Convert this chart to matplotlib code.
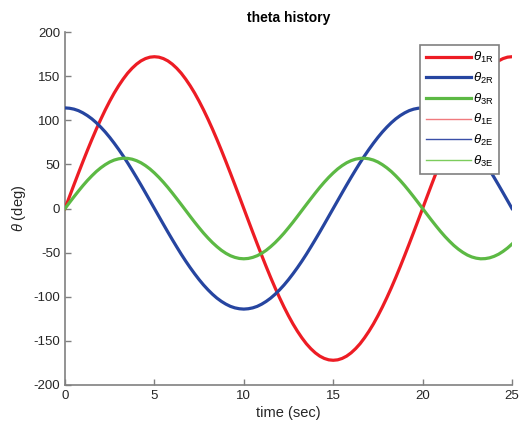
import numpy as np
import matplotlib
matplotlib.use('Agg')
import matplotlib.pyplot as plt

plt.rcParams['font.family'] = ['Liberation Sans', 'DejaVu Sans']
plt.rcParams['mathtext.fontset'] = 'custom'
plt.rcParams['mathtext.rm'] = 'Liberation Sans'
plt.rcParams['mathtext.it'] = 'Liberation Sans:italic'
plt.rcParams['axes.unicode_minus'] = False

# time samples (sec)
t = np.arange(0, 25.001, 0.25)

# joint angles (deg), every 0.25 s
theta1 = [0, 13.5, 26.9, 40.1, 53.1, 65.8, 78.1, 89.9, 101.1, 111.7, 121.6,
          130.8, 139.1, 146.6, 153.3, 158.9, 163.6, 167.3, 169.9, 171.5, 172,
          171.5, 169.9, 167.3, 163.6, 158.9, 153.3, 146.6, 139.1, 130.8, 121.6,
          111.7, 101.1, 89.9, 78.1, 65.8, 53.1, 40.1, 26.9, 13.5, 0,
          -13.5, -26.9, -40.1, -53.1, -65.8, -78.1, -89.9, -101.1, -111.7, -121.6,
          -130.8, -139.1, -146.6, -153.3, -158.9, -163.6, -167.3, -169.9, -171.5, -172,
          -171.5, -169.9, -167.3, -163.6, -158.9, -153.3, -146.6, -139.1, -130.8, -121.6,
          -111.7, -101.1, -89.9, -78.1, -65.8, -53.1, -40.1, -26.9, -13.5, 0,
          13.5, 26.9, 40.1, 53.1, 65.8, 78.1, 89.9, 101.1, 111.7, 121.6,
          130.8, 139.1, 146.6, 153.3, 158.9, 163.6, 167.3, 169.9, 171.5, 172]
theta2 = [114, 113.6, 112.6, 110.9, 108.4, 105.3, 101.6, 97.2, 92.2, 86.7, 80.6,
          74.0, 67.0, 59.6, 51.8, 43.6, 35.2, 26.6, 17.8, 8.9, 0,
          -8.9, -17.8, -26.6, -35.2, -43.6, -51.8, -59.6, -67.0, -74.0, -80.6,
          -86.7, -92.2, -97.2, -101.6, -105.3, -108.4, -110.9, -112.6, -113.6, -114,
          -113.6, -112.6, -110.9, -108.4, -105.3, -101.6, -97.2, -92.2, -86.7, -80.6,
          -74.0, -67.0, -59.6, -51.8, -43.6, -35.2, -26.6, -17.8, -8.9, 0,
          8.9, 17.8, 26.6, 35.2, 43.6, 51.8, 59.6, 67.0, 74.0, 80.6,
          86.7, 92.2, 97.2, 101.6, 105.3, 108.4, 110.9, 112.6, 113.6, 114,
          113.6, 112.6, 110.9, 108.4, 105.3, 101.6, 97.2, 92.2, 86.7, 80.6,
          74.0, 67.0, 59.6, 51.8, 43.6, 35.2, 26.6, 17.8, 8.9, 0]
theta3 = [0, 6.7, 13.3, 19.7, 25.9, 31.7, 37.0, 41.9, 46.1, 49.7, 52.7,
          54.9, 56.3, 57.0, 56.8, 55.9, 54.2, 51.8, 48.6, 44.8, 40.3,
          35.3, 29.8, 23.9, 17.6, 11.1, 4.5, -2.2, -8.9, -15.5, -21.8,
          -27.9, -33.5, -38.7, -43.3, -47.4, -50.8, -53.5, -55.4, -56.6, -57.0,
          -56.6, -55.4, -53.5, -50.8, -47.4, -43.3, -38.7, -33.5, -27.9, -21.8,
          -15.5, -8.9, -2.2, 4.5, 11.1, 17.6, 23.9, 29.8, 35.3, 40.3,
          44.8, 48.6, 51.8, 54.2, 55.9, 56.8, 57.0, 56.3, 54.9, 52.7,
          49.7, 46.1, 41.9, 37.0, 31.7, 25.9, 19.7, 13.3, 6.7, 0,
          -6.7, -13.3, -19.7, -25.9, -31.7, -37.0, -41.9, -46.1, -49.7, -52.7,
          -54.9, -56.3, -57.0, -56.8, -55.9, -54.2, -51.8, -48.6, -44.8, -40.3]

labels_R = [r'$\theta_{\mathrm{1R}}$', r'$\theta_{\mathrm{2R}}$', r'$\theta_{\mathrm{3R}}$']
labels_E = [r'$\theta_{\mathrm{1E}}$', r'$\theta_{\mathrm{2E}}$', r'$\theta_{\mathrm{3E}}$']
cols_R = ['#ed1c24', '#2645a0', '#5cb944']
cols_E = ['#f07a7e', '#3a4fa8', '#7ccc5c']

fig = plt.figure(figsize=(5.21, 4.28), dpi=100)
ax = fig.add_axes([0.1248, 0.1005, 0.8579, 0.8247])

for y, c, lab in zip([theta1, theta2, theta3], cols_R, labels_R):
    ax.plot(t, y, color=c, lw=2.3, label=lab, zorder=3,
            solid_joinstyle='round')
for y, c, lab in zip([theta1, theta2, theta3], cols_E, labels_E):
    ax.plot(t, y, color=c, lw=1.0, label=lab, zorder=2)

ax.set_xlim(0, 25)
ax.set_ylim(-200, 200)
ax.set_xticks(np.arange(0, 26, 5))
ax.set_yticks(np.arange(-200, 201, 50))

gray = '#808080'
for s in ['top', 'right']:
    ax.spines[s].set_visible(False)
for s in ['left', 'bottom']:
    ax.spines[s].set_color(gray)
    ax.spines[s].set_linewidth(1.2)
ax.tick_params(direction='in', length=4, color=gray, labelsize=9.5,
               labelcolor='#262626', width=1)

ax.set_title('theta history', fontsize=10, fontweight='bold', pad=7)
ax.set_xlabel('time (sec)', fontsize=10.5, color='#262626', labelpad=3)
ax.set_ylabel(r'$\mathit{\theta}$ (deg)', fontsize=10.5, color='#262626', labelpad=4)

leg = ax.legend(loc='upper right', bbox_to_anchor=(0.958, 0.895),
                bbox_transform=fig.transFigure, fontsize=9.5,
                handlelength=3.4, handletextpad=0.2, labelspacing=0.42,
                borderpad=0.4, borderaxespad=0, fancybox=False,
                framealpha=1, edgecolor=gray)
leg.get_frame().set_linewidth(1.2)

fig.savefig('out.png', dpi=100)
